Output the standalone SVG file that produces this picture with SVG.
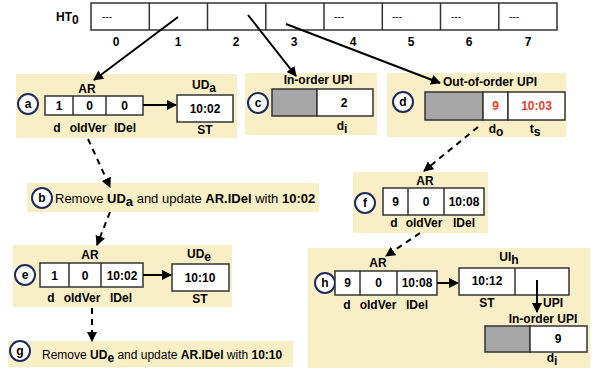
<svg xmlns="http://www.w3.org/2000/svg" width="595" height="373" viewBox="0 0 595 373">
<defs>
<marker id="ah" viewBox="0 0 10 10" refX="9" refY="5" markerWidth="5" markerHeight="5" orient="auto" markerUnits="strokeWidth">
<path d="M0,0 L10,5 L0,10 z" fill="#000"/>
</marker>
<style>
text{font-family:"Liberation Sans",Arial,sans-serif;font-size:12px;font-weight:bold;fill:#000;}
.bg{fill:#f9efc7;stroke:none;}
.cell{fill:#fff;stroke:#333;stroke-width:1.5;}
.gray{fill:#a6a6a6;stroke:#333;stroke-width:1.5;}
.c{text-anchor:middle;}
.circ{fill:#fff;stroke:#1f2a5c;stroke-width:2;}
.solid{stroke:#000;stroke-width:2;fill:none;marker-end:url(#ah);}
.dash{stroke:#000;stroke-width:2;fill:none;stroke-dasharray:6,5;marker-end:url(#ah);}
.red{fill:#e8412c;}
.n{font-weight:normal;}
.big{font-size:13px;}
.dd{font-weight:normal;font-size:10px;}
</style>
</defs>

<g id="ht0">
<text x="56" y="21" font-size="12">HT<tspan dy="3">0</tspan></text>
<rect class="cell" x="91" y="3" width="466" height="27"/>
<path d="M149.3,3V30M207.5,3V30M265.8,3V30M324,3V30M382.3,3V30M440.5,3V30M498.8,3V30" stroke="#333" stroke-width="1.5"/>
<text class="dd" x="102" y="20">---</text>
<text class="dd" x="334" y="20">---</text>
<text class="dd" x="392" y="20">---</text>
<text class="dd" x="451" y="20">---</text>
<text class="dd" x="509" y="20">---</text>
<text class="c" x="116" y="46">0</text>
<text class="c" x="178" y="46">1</text>
<text class="c" x="236" y="46">2</text>
<text class="c" x="294" y="46">3</text>
<text class="c" x="353" y="46">4</text>
<text class="c" x="411" y="46">5</text>
<text class="c" x="469" y="46">6</text>
<text class="c" x="528" y="46">7</text>
</g>

<g id="panel-a">
<rect class="bg" x="16" y="74" width="221" height="64"/>
<text class="c" x="87" y="93">AR</text>
<circle class="circ" cx="28" cy="104" r="10"/>
<text class="c" x="28" y="108">a</text>
<rect class="cell" x="45" y="96" width="98" height="19"/>
<path d="M73,96V115M106,96V115" stroke="#333" stroke-width="1.5"/>
<text class="c" x="59" y="110">1</text>
<text class="c" x="89.5" y="110">0</text>
<text class="c" x="124.5" y="110">0</text>
<text class="c" x="57" y="132">d</text>
<text class="c" x="88" y="132">oldVer</text>
<text class="c" x="125" y="132">lDel</text>
<text class="c" x="204" y="89">UD<tspan dy="3">a</tspan></text>
<rect class="cell" x="177" y="95" width="56" height="27"/>
<text class="c" x="205" y="113">10:02</text>
<text class="c" x="205" y="134">ST</text>
</g>

<g id="panel-c">
<rect class="bg" x="245" y="73" width="132" height="62"/>
<text class="c" x="318" y="84">In-order UPI</text>
<circle class="circ" cx="258" cy="103" r="10"/>
<text class="c" x="258" y="107">c</text>
<rect class="gray" x="272" y="89" width="45" height="27"/>
<rect class="cell" x="317" y="89" width="56" height="27"/>
<text class="c" x="344" y="107">2</text>
<text class="c" x="342" y="130">d<tspan dy="3">i</tspan></text>
</g>

<g id="panel-d">
<rect class="bg" x="387" y="73" width="179" height="64"/>
<text class="c" x="490" y="86">Out-of-order UPI</text>
<circle class="circ" cx="403" cy="102" r="10"/>
<text class="c" x="403" y="106">d</text>
<rect class="gray" x="425" y="92" width="58" height="28"/>
<rect class="cell" x="483" y="92" width="25" height="28"/>
<rect class="cell" x="508" y="92" width="57" height="28"/>
<text class="c red" x="495.5" y="110">9</text>
<text class="c red" x="536.5" y="110">10:03</text>
<text class="c" x="496" y="133">d<tspan dy="3">o</tspan></text>
<text class="c" x="535" y="133">t<tspan dy="3">s</tspan></text>
</g>

<g id="panel-b">
<rect class="bg" x="27" y="183" width="292" height="29"/>
<circle class="circ" cx="42" cy="198" r="10"/>
<text class="c" x="42" y="202">b</text>
<text class="big" x="55" y="203"><tspan class="n">Remove </tspan>UD<tspan dy="3">a</tspan><tspan dy="-3" class="n"> and update </tspan>AR.lDel<tspan class="n"> with </tspan>10:02</text>
</g>

<g id="panel-e">
<rect class="bg" x="13" y="245" width="219" height="62"/>
<text class="c" x="90" y="259">AR</text>
<circle class="circ" cx="25" cy="275" r="10"/>
<text class="c" x="25" y="279">e</text>
<rect class="cell" x="40" y="263" width="103" height="24"/>
<path d="M69,263V287M101,263V287" stroke="#333" stroke-width="1.5"/>
<text class="c" x="54.5" y="280">1</text>
<text class="c" x="85" y="280">0</text>
<text class="c" x="122" y="280">10:02</text>
<text class="c" x="51" y="302">d</text>
<text class="c" x="82" y="302">oldVer</text>
<text class="c" x="121" y="302">lDel</text>
<text class="c" x="199" y="258">UD<tspan dy="3">e</tspan></text>
<rect class="cell" x="172" y="264" width="57" height="27"/>
<text class="c" x="200" y="282">10:10</text>
<text class="c" x="200" y="303">ST</text>
</g>

<g id="panel-g">
<rect class="bg" x="8" y="341" width="285" height="26"/>
<circle class="circ" cx="20" cy="351" r="10"/>
<text class="c" x="20" y="355">g</text>
<text x="42" y="359" font-size="12.4"><tspan class="n">Remove </tspan>UD<tspan dy="3">e</tspan><tspan dy="-3" class="n"> and update </tspan>AR.lDel<tspan class="n"> with </tspan>10:10</text>
</g>

<g id="panel-f">
<rect class="bg" x="353" y="172" width="135" height="61"/>
<text class="c" x="425" y="185">AR</text>
<circle class="circ" cx="365" cy="203" r="10"/>
<text class="c" x="365" y="207">f</text>
<rect class="cell" x="383" y="188" width="101" height="27"/>
<path d="M408,188V215M444,188V215" stroke="#333" stroke-width="1.5"/>
<text class="c" x="395.5" y="206">9</text>
<text class="c" x="426" y="206">0</text>
<text class="c" x="464" y="206">10:08</text>
<text class="c" x="394" y="227">d</text>
<text class="c" x="424" y="227">oldVer</text>
<text class="c" x="464" y="227">lDel</text>
</g>

<g id="panel-h">
<rect class="bg" x="308" y="248" width="282" height="120"/>
<text class="c" x="378" y="267">AR</text>
<circle class="circ" cx="325" cy="283" r="10"/>
<text class="c" x="325" y="287">h</text>
<rect class="cell" x="335" y="271" width="102" height="24"/>
<path d="M360,271V295M397,271V295" stroke="#333" stroke-width="1.5"/>
<text class="c" x="347.5" y="287">9</text>
<text class="c" x="378.5" y="287">0</text>
<text class="c" x="417" y="287">10:08</text>
<text class="c" x="347" y="309">d</text>
<text class="c" x="378" y="309">oldVer</text>
<text class="c" x="417" y="309">lDel</text>
<text class="c" x="509" y="261">UI<tspan dy="3">h</tspan></text>
<rect class="cell" x="459" y="268" width="110" height="27"/>
<path d="M515,268V295" stroke="#333" stroke-width="1.5"/>
<text class="c" x="487" y="285">10:12</text>
<text class="c" x="487" y="307">ST</text>
<text class="c" x="553" y="307">UPI</text>
<text class="c" x="543" y="323">In-order UPI</text>
<rect class="gray" x="485" y="326" width="45" height="26"/>
<rect class="cell" x="530" y="326" width="57" height="26"/>
<text class="c" x="558" y="343">9</text>
<text class="c" x="552" y="362">d<tspan dy="3">i</tspan></text>
</g>

<g id="connectors">
<path class="solid" d="M178,17 L94,80"/>
<path class="solid" d="M248,15 L296,76"/>
<path class="solid" d="M286,24 L440,83"/>
<path class="solid" d="M143,105 L176,105"/>
<path class="solid" d="M143,275 L171,275"/>
<path class="solid" d="M437,283 L458,283"/>
<path class="solid" d="M537,280 L537,312"/>
<path class="dash" d="M88,139 L110,187"/>
<path class="dash" d="M110,212 L97,245"/>
<path class="dash" d="M92,308 L92,341"/>
<path class="dash" d="M478,127 L424,171"/>
<path class="dash" d="M420,233 L386,256"/>
</g>
</svg>
